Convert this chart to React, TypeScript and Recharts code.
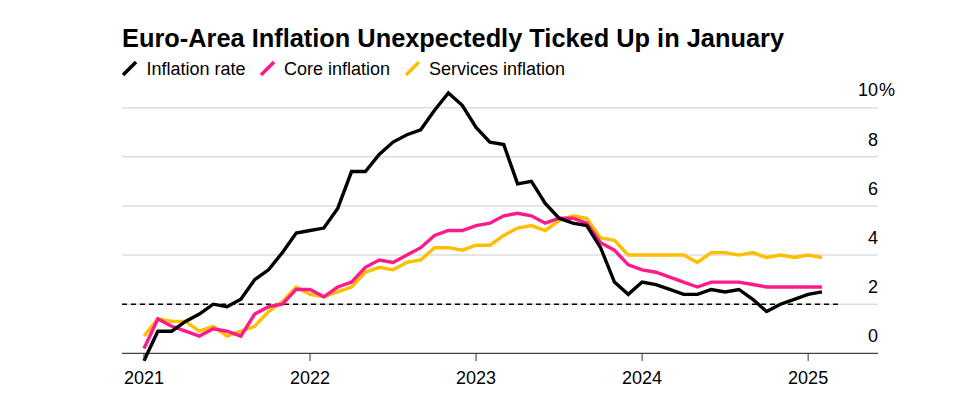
import React from "react";
import { Line, LineChart, ReferenceLine, XAxis, YAxis } from "recharts";

// Monthly readings, Dec 2020 through Jan 2025 (% y/y)
const months = [
  "2020-12",
  "2021-01", "2021-02", "2021-03", "2021-04", "2021-05", "2021-06",
  "2021-07", "2021-08", "2021-09", "2021-10", "2021-11", "2021-12",
  "2022-01", "2022-02", "2022-03", "2022-04", "2022-05", "2022-06",
  "2022-07", "2022-08", "2022-09", "2022-10", "2022-11", "2022-12",
  "2023-01", "2023-02", "2023-03", "2023-04", "2023-05", "2023-06",
  "2023-07", "2023-08", "2023-09", "2023-10", "2023-11", "2023-12",
  "2024-01", "2024-02", "2024-03", "2024-04", "2024-05", "2024-06",
  "2024-07", "2024-08", "2024-09", "2024-10", "2024-11", "2024-12",
  "2025-01",
];

const inflationRate = [
  -0.3,
  0.9, 0.9, 1.3, 1.6, 2.0, 1.9, 2.2, 3.0, 3.4, 4.1, 4.9, 5.0,
  5.1, 5.9, 7.4, 7.4, 8.1, 8.6, 8.9, 9.1, 9.9, 10.6, 10.1, 9.2,
  8.6, 8.5, 6.9, 7.0, 6.1, 5.5, 5.3, 5.2, 4.3, 2.9, 2.4, 2.9,
  2.8, 2.6, 2.4, 2.4, 2.6, 2.5, 2.6, 2.2, 1.7, 2.0, 2.2, 2.4,
  2.5,
];

const coreInflation = [
  0.2,
  1.4, 1.1, 0.9, 0.7, 1.0, 0.9, 0.7, 1.6, 1.9, 2.0, 2.6, 2.6,
  2.3, 2.7, 2.9, 3.5, 3.8, 3.7, 4.0, 4.3, 4.8, 5.0, 5.0, 5.2,
  5.3, 5.6, 5.7, 5.6, 5.3, 5.5, 5.5, 5.3, 4.5, 4.2, 3.6, 3.4,
  3.3, 3.1, 2.9, 2.7, 2.9, 2.9, 2.9, 2.8, 2.7, 2.7, 2.7, 2.7,
  2.7,
];

const servicesInflation = [
  0.7,
  1.4, 1.3, 1.3, 0.9, 1.1, 0.7, 0.9, 1.1, 1.7, 2.1, 2.7, 2.4,
  2.3, 2.5, 2.7, 3.3, 3.5, 3.4, 3.7, 3.8, 4.3, 4.3, 4.2, 4.4,
  4.4, 4.8, 5.1, 5.2, 5.0, 5.4, 5.6, 5.5, 4.7, 4.6, 4.0, 4.0,
  4.0, 4.0, 4.0, 3.7, 4.1, 4.1, 4.0, 4.1, 3.9, 4.0, 3.9, 4.0,
  3.9,
];

const yearTicks = [0, 12, 24, 36, 48];
const yearLabels = ["2021", "2022", "2023", "2024", "2025"];
const yTicks = [0, 2, 4, 6, 8, 10];
const ecbTarget = 2;

const BLACK = "#000000";
const PINK = "#ff1a8c";
const YELLOW = "#ffbf00";
const FONT = "'Liberation Sans', Arial, sans-serif";

const X_DOMAIN: [number, number] = [-1.59, 53.05];

const data = months.map((m, i) => ({
  i,
  month: m,
  inflation: inflationRate[i],
  core: coreInflation[i],
  services: servicesInflation[i],
}));

// axis sits at plot bottom (y = -0.5); zero line is 12.3px above it
const XTick = (props: any) => {
  const { x, y, payload } = props;
  const label = yearLabels[yearTicks.indexOf(payload.value)];
  return (
    <g>
      <line x1={x} x2={x} y1={y - 12.3} y2={y - 4.6} stroke="#333" strokeWidth={1} />
      <text x={x} y={y + 18.4} textAnchor="middle" fontFamily={FONT} fontSize={18} fill="#000">
        {label}
      </text>
    </g>
  );
};

const YTick = (props: any) => {
  const { x, y, payload } = props;
  return (
    <g>
      <text x={x} y={y - 11.3} textAnchor="end" fontFamily={FONT} fontSize={18} fill="#000">
        {payload.value}
      </text>
      {payload.value === 10 && (
        <text x={x + 1} y={y - 11.3} textAnchor="start" fontFamily={FONT} fontSize={18} fill="#000">
          %
        </text>
      )}
    </g>
  );
};

const legendItems = [
  { label: "Inflation rate", color: BLACK, icon: 123, text: 146.5 },
  { label: "Core inflation", color: PINK, icon: 261, text: 284 },
  { label: "Services inflation", color: YELLOW, icon: 406, text: 429 },
];

export default function App() {
  return (
    <div style={{ position: "absolute", left: 0, top: 0, width: 969, height: 411, background: "#fff" }}>
      <LineChart
        width={969}
        height={411}
        data={data}
        margin={{ top: 90.5, right: 90, bottom: 44.4, left: 122 }}
      >
        <XAxis
          dataKey="i"
          type="number"
          domain={X_DOMAIN}
          ticks={yearTicks}
          interval={0}
          height={1}
          tickSize={0}
          tickMargin={0}
          axisLine={false}
          tickLine={false}
          tick={(p: any) => <XTick {...p} />}
          allowDataOverflow
        />
        <YAxis
          orientation="right"
          type="number"
          domain={[-0.5, 10.7]}
          ticks={yTicks}
          interval={0}
          width={1}
          tickSize={0}
          tickMargin={0}
          axisLine={false}
          tickLine={false}
          tick={(p: any) => <YTick {...p} />}
        />
        {yTicks
          .filter((t) => t !== 0)
          .map((t) => (
            <ReferenceLine key={t} y={t} stroke="#dddddd" strokeWidth={1.5} ifOverflow="visible" />
          ))}
        <ReferenceLine y={0} stroke="#444" strokeWidth={1.2} ifOverflow="visible" />
        <ReferenceLine
          segment={[
            { x: X_DOMAIN[0], y: ecbTarget },
            { x: 50.2, y: ecbTarget },
          ]}
          stroke="#000"
          strokeWidth={1.5}
          strokeDasharray="5 4"
          ifOverflow="visible"
        />
        <Line dataKey="services" stroke={YELLOW} strokeWidth={3.4} dot={false} isAnimationActive={false} />
        <Line dataKey="core" stroke={PINK} strokeWidth={3.4} dot={false} isAnimationActive={false} />
        <Line dataKey="inflation" stroke={BLACK} strokeWidth={3.4} dot={false} isAnimationActive={false} />
      </LineChart>
      <svg
        width={969}
        height={411}
        style={{ position: "absolute", left: 0, top: 0, pointerEvents: "none" }}
      >
        <text
          x={122}
          y={46.5}
          fontFamily="'Liberation Sans Narrow', 'Liberation Sans', Arial, sans-serif"
          fontWeight={700}
          fontSize={25}
          fill="#000"
          textLength={662}
          lengthAdjust="spacingAndGlyphs"
        >
          Euro-Area Inflation Unexpectedly Ticked Up in January
        </text>
        {legendItems.map((item) => (
          <g key={item.label}>
            <line
              x1={item.icon}
              y1={75}
              x2={item.icon + 13}
              y2={62}
              stroke={item.color}
              strokeWidth={3.5}
            />
            <text x={item.text} y={75} fontFamily={FONT} fontSize={18} fill="#000">
              {item.label}
            </text>
          </g>
        ))}
      </svg>
    </div>
  );
}
